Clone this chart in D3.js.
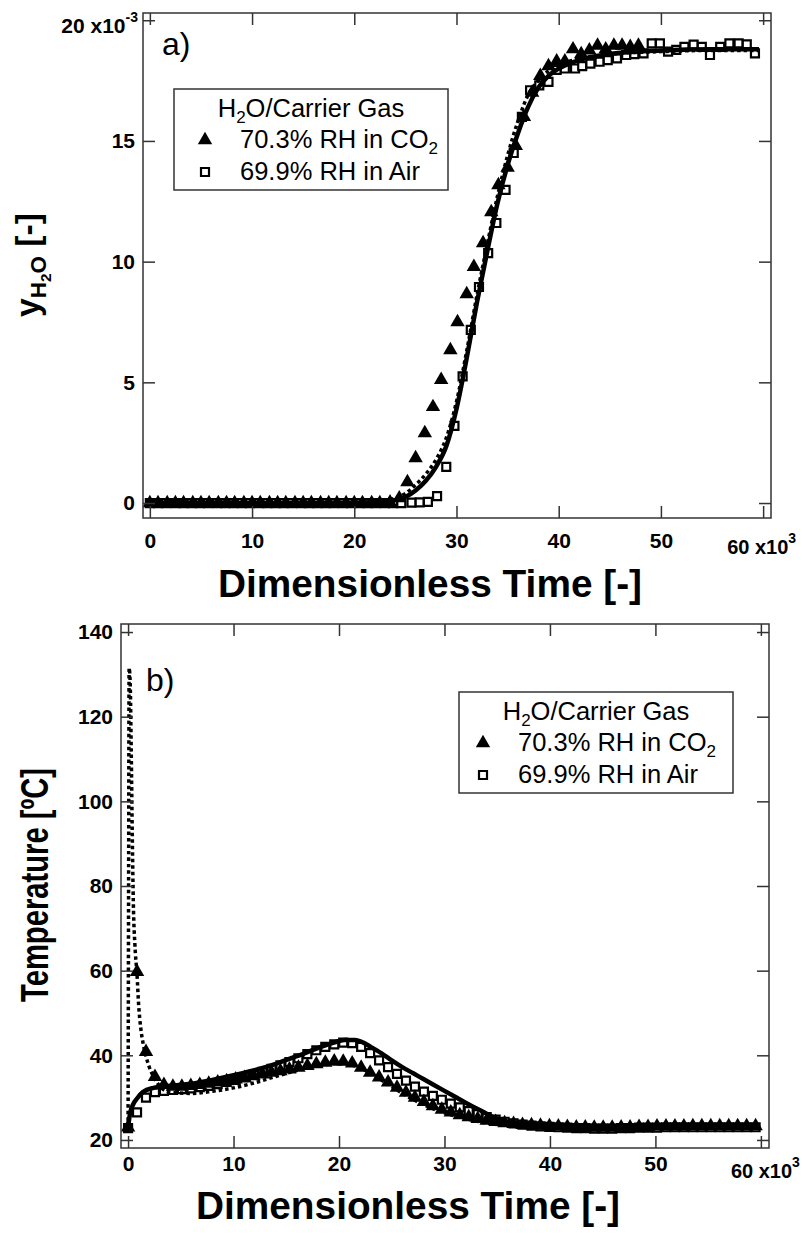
<!DOCTYPE html>
<html>
<head>
<meta charset="utf-8">
<script src="https://cdn.jsdelivr.net/npm/d3@7"></script>
<style>
  body { margin: 0; background: #fff; }
  svg { display: block; font-family: "Liberation Sans", Arial, Helvetica, sans-serif; }
</style>
</head>
<body>
<svg id="chart" width="802" height="1237"></svg>
<script>
// ---------- tick values ----------
const timeTicks = [0, 10, 20, 30, 40, 50, 60];          // x10^3
const h2oTicks  = [0, 5, 10, 15, 20];                    // x10^-3
const tempTicks = [20, 40, 60, 80, 100, 120, 140];       // degC

// ---------- panel a: outlet water mole fraction (x10^-3) ----------
const co2TimeA = [0, 0.8, 1.7, 2.5, 3.3, 4.2, 5.0, 5.8, 6.7, 7.5, 8.3, 9.2, 10.0, 10.8, 11.7,
  12.5, 13.3, 14.2, 15.0, 15.8, 16.7, 17.5, 18.3, 19.2, 20.0, 20.8, 21.7, 22.5, 23.5, 24.4,
  25.2, 26.0, 26.9, 27.7, 28.5, 29.4, 30.1, 31.0, 31.7, 32.6, 33.4, 34.1, 35.0, 35.8, 36.6,
  37.4, 38.2, 39.0, 39.8, 40.6, 41.4, 42.2, 43.0, 43.8, 44.6, 45.4, 46.2, 47.0, 47.8];
const co2H2O = [0, 0, 0, 0, 0, 0, 0, 0, 0, 0, 0, 0, 0, 0, 0,
  0, 0, 0, 0, 0, 0, 0, 0, 0, 0, 0, 0, 0, 0.03, 0.2,
  0.87, 1.86, 2.9, 3.98, 5.1, 6.34, 7.5, 8.66, 9.78, 10.77, 12.05, 13.17, 13.9, 14.8, 16.0,
  17.0, 17.7, 18.1, 18.3, 18.3, 18.8, 18.6, 18.75, 18.95, 18.8, 18.95, 18.95, 18.9, 18.95];

const airTimeA = [0, 0.8, 1.6, 2.5, 3.3, 4.1, 4.9, 5.7, 6.6, 7.4, 8.2, 9.0, 9.8, 10.7, 11.5,
  12.3, 13.1, 13.9, 14.8, 15.6, 16.4, 17.2, 18.0, 18.9, 19.7, 20.5, 21.3, 22.1, 23.0, 23.8,
  24.6, 25.6, 26.4, 27.2, 28.1, 29.0, 29.8, 30.6, 31.4, 32.2, 33.1, 33.9, 34.8, 35.6, 36.4,
  37.2, 38.1, 39.0, 39.8, 40.6, 41.6, 42.3, 43.1, 44.0, 44.8, 45.7, 46.6, 47.4, 48.3, 49.1,
  49.9, 50.7, 51.5, 52.3, 53.2, 54.0, 54.8, 55.8, 56.7, 57.6, 58.4, 59.2];
const airH2O = [0, 0, 0, 0, 0, 0, 0, 0, 0, 0, 0, 0, 0, 0, 0,
  0, 0, 0, 0, 0, 0, 0, 0, 0, 0, 0, 0, 0, 0, 0,
  0, 0.02, 0.03, 0.05, 0.29, 1.5, 3.2, 5.25, 7.17, 8.95, 10.35, 11.6, 12.97, 14.5, 16.0,
  17.1, 17.3, 17.45, 17.94, 18.0, 18.0, 18.1, 18.2, 18.28, 18.35, 18.42, 18.56, 18.6, 18.63, 19.04,
  19.04, 18.7, 18.77, 18.9, 18.99, 18.9, 18.56, 18.9, 19.04, 19.04, 19.0, 18.63];

const fitTimeA = [0, 20, 22, 23, 24, 25, 26, 27, 28, 29, 30, 31, 32, 33, 34, 35, 36, 37, 38, 39,
  40, 42, 45, 50, 55, 59.6];
const fitSolidH2O = [0, 0.01, 0.03, 0.06, 0.12, 0.25, 0.52, 0.92, 1.5, 2.35, 3.9, 6.0, 8.3, 10.4,
  12.4, 14.0, 15.3, 16.4, 17.2, 17.7, 18.0, 18.35, 18.6, 18.75, 18.8, 18.8];
const fitDashedH2O = [0, 0.02, 0.05, 0.1, 0.2, 0.4, 0.75, 1.2, 1.8, 2.7, 4.2, 6.3, 8.6, 10.7,
  12.7, 14.4, 15.8, 16.9, 17.5, 17.9, 18.15, 18.4, 18.6, 18.7, 18.75, 18.75];

// ---------- panel b: bed temperature (degC) ----------
const tempTime = [0, 0.85, 1.7, 2.55, 3.4, 4.25, 5.1, 5.95, 6.8, 7.65, 8.5, 9.35, 10.2, 11.05,
  11.9, 12.75, 13.6, 14.45, 15.3, 16.15, 17.0, 17.85, 18.7, 19.55, 20.4, 21.25, 22.1, 22.95,
  23.8, 24.65, 25.5, 26.35, 27.2, 28.05, 28.9, 29.75, 30.6, 31.45, 32.3, 33.15, 34.0, 34.85,
  35.7, 36.55, 37.4, 38.25, 39.1, 39.95, 40.8, 41.65, 42.5, 43.35, 44.2, 45.05, 45.9, 46.75,
  47.6, 48.45, 49.3, 50.15, 51.0, 51.85, 52.7, 53.55, 54.4, 55.25, 56.1, 56.95, 57.8, 58.65, 59.5];
const co2Temp = [23.0, 59.7, 40.8, 34.9, 33.0, 32.6, 32.6, 32.8, 33.0, 33.3, 33.6, 33.9, 34.3, 34.7,
  35.1, 35.5, 35.9, 36.3, 36.7, 37.1, 37.5, 37.9, 38.3, 38.6, 38.5, 38.1, 37.1, 35.9,
  34.8, 33.6, 32.4, 31.2, 30.0, 29.0, 28.0, 27.2, 26.5, 25.9, 25.4, 25.0, 24.6, 24.3,
  24.0, 23.8, 23.6, 23.5, 23.4, 23.3, 23.2, 23.1, 23.0, 23.0, 22.9, 22.9, 22.9, 23.0,
  23.0, 23.1, 23.1, 23.2, 23.2, 23.2, 23.2, 23.3, 23.3, 23.3, 23.3, 23.3, 23.3, 23.3, 23.3];
const airTemp = [22.8, 26.5, 30.0, 31.3, 31.6, 31.8, 32.0, 32.2, 32.5, 32.8, 33.2, 33.7, 34.2, 34.8,
  35.4, 36.1, 36.8, 37.6, 38.4, 39.3, 40.3, 41.2, 42.0, 42.6, 43.0, 42.9, 42.0, 40.5,
  38.8, 37.2, 35.6, 34.0, 32.6, 31.4, 30.4, 29.5, 28.6, 27.7, 26.8, 26.1, 25.4, 24.8,
  24.3, 23.9, 23.6, 23.4, 23.2, 23.1, 23.0, 22.9, 22.8, 22.8, 22.7, 22.7, 22.7, 22.8,
  22.8, 22.9, 22.9, 22.9, 23.0, 23.0, 23.0, 23.0, 23.0, 23.0, 23.0, 23.0, 23.0, 23.0, 23.0];

const airModelTime = [0, 0.2, 0.5, 0.85, 1.4, 2.4, 4, 6, 8, 10, 12, 14, 16, 18, 19.5, 20.5, 21.5,
  22.3, 23, 24, 25, 26, 27, 28, 29, 30, 31, 32, 33, 34, 35, 36, 37, 40, 45, 50, 55, 59.7];
const airModelTemp = [23, 26.4, 28.5, 29.8, 31.3, 32.3, 32.8, 33.3, 34.2, 35.3, 36.5, 38.0, 39.8,
  41.7, 43.0, 43.6, 43.6, 43.0, 42.0, 40.5, 38.8, 37.2, 35.8, 34.4, 33.0, 31.6, 30.2, 28.8,
  27.5, 26.2, 25.0, 24.2, 23.8, 23.5, 23.3, 23.3, 23.3, 23.3];

const co2ModelTime = [0, 0.05, 0.1, 0.2, 0.3, 0.4, 0.5, 0.65, 0.85, 1.0, 1.2, 1.45, 1.7, 2.0, 2.5,
  3.2, 4, 6, 8, 10, 12, 14, 16, 18, 19.5, 20.5, 21.5, 22.5, 23.5, 24.5, 25.5, 27, 28.5, 30,
  32, 34, 36, 40, 45, 50, 55, 59.7];
const co2ModelTemp = [23, 80, 131.5, 128, 112, 92, 76, 66, 59, 52, 46.5, 42.5, 39.8, 37.3, 34.6,
  32.2, 31.3, 31.0, 31.5, 32.3, 33.5, 35.0, 36.4, 37.5, 38.0, 38.0, 37.5, 36.4, 35.0, 33.4,
  31.8, 29.6, 27.8, 26.4, 25.0, 24.0, 23.4, 23.0, 22.8, 22.9, 23.0, 23.0];

const legendTitle = ["H", "2", "O/Carrier Gas"];
const seriesNames = [["70.3% RH in CO", "2"], ["69.9% RH in Air", ""]];

// ---------- drawing ----------
const INK = "#000";
const AXIS = "#333";
const FONT = "'Liberation Sans', Arial, sans-serif";
const svg = d3.select("#chart");
svg.append("rect").attr("width", 802).attr("height", 1237).attr("fill", "#fff");

const zip = (xs, ys) => xs.map((t, i) => [t, ys[i]]);

function makePanel(box, yDomain) {
  const x = d3.scaleLinear().domain([-0.67, 60.77]).range([box.left, box.right]);
  const y = d3.scaleLinear().domain(yDomain).range([box.bottom, box.top]);
  const g = svg.append("g");
  return { g, x, y, box };
}

function styleAxis(sel) {
  sel.select(".domain").remove();
  sel.selectAll(".tick line").attr("stroke", AXIS).attr("stroke-width", 1.5);
  sel.selectAll(".tick text")
    .attr("fill", INK)
    .attr("font-family", FONT)
    .attr("font-weight", "bold")
    .attr("font-size", 21);
}

function drawAxes(p, yTicks, opts) {
  const { g, x, y, box } = p;
  const T = 12;
  // bottom (labelled) and top (mirror) time axes
  g.append("g").attr("transform", `translate(0,${box.bottom})`)
    .call(d3.axisBottom(x).tickValues(timeTicks).tickSize(-T).tickPadding(opts.xPad)
      .tickFormat(d => d === 60 ? "" : d))
    .call(styleAxis);
  g.append("g").attr("transform", `translate(0,${box.top})`)
    .call(d3.axisTop(x).tickValues(timeTicks).tickSize(-T).tickFormat(""))
    .call(styleAxis);
  // left (labelled) and right (mirror) value axes
  g.append("g").attr("transform", `translate(${box.left},0)`)
    .call(d3.axisLeft(y).tickValues(yTicks).tickSize(-T).tickPadding(opts.yPad)
      .tickFormat(d => opts.topExp && d === yTicks[yTicks.length - 1] ? "" : d))
    .call(styleAxis);
  g.append("g").attr("transform", `translate(${box.right},0)`)
    .call(d3.axisRight(y).tickValues(yTicks).tickSize(-T).tickFormat(""))
    .call(styleAxis);
  // frame
  g.append("rect")
    .attr("x", box.left).attr("y", box.top)
    .attr("width", box.right - box.left).attr("height", box.bottom - box.top)
    .attr("fill", "none").attr("stroke", AXIS).attr("stroke-width", 1.5);

  // "60 x10^3" label on the last time tick
  const t60 = g.append("text")
    .attr("x", x(60) + opts.expDx).attr("y", box.bottom + opts.expDy)
    .attr("font-weight", "bold").attr("font-size", 20).attr("fill", INK);
  t60.append("tspan").text("60 x10");
  t60.append("tspan").attr("font-size", 14).attr("dy", -11).text("3");

  // exponent label on the top value tick
  if (opts.topExp) {
    const yt = y(yTicks[yTicks.length - 1]);
    const te = g.append("text")
      .attr("x", box.left - 5).attr("y", yt + 13)
      .attr("text-anchor", "end")
      .attr("font-weight", "bold").attr("font-size", 21).attr("fill", INK);
    te.append("tspan").text("20 x10");
    te.append("tspan").attr("font-size", 14).attr("dy", -11).text(opts.topExp);
  }
}

function drawLegend(g, lx, ly, o) {
  g.append("rect").attr("x", lx).attr("y", ly).attr("width", 274).attr("height", 101)
    .attr("fill", "#fff").attr("stroke", AXIS).attr("stroke-width", 1.5);
  const title = g.append("text").attr("x", lx + 137).attr("y", ly + 28)
    .attr("text-anchor", "middle").attr("font-size", 25.5).attr("fill", INK);
  title.append("tspan").text(legendTitle[0]);
  title.append("tspan").attr("font-size", 17).attr("dy", 6).text(legendTitle[1]);
  title.append("tspan").attr("dy", -6).text(legendTitle[2]);

  const rows = [ly + 59, ly + 91];
  g.append("path").attr("d", d3.symbol(d3.symbolTriangle, 90)())
    .attr("transform", `translate(${lx + o.sym},${rows[0] - 8})`).attr("fill", INK);
  g.append("path").attr("d", d3.symbol(d3.symbolSquare, 64)())
    .attr("transform", `translate(${lx + o.sym},${rows[1] - 8})`)
    .attr("fill", "#fff").attr("stroke", INK).attr("stroke-width", 2.2);
  seriesNames.forEach((nm, i) => {
    const t = g.append("text").attr("x", lx + o.txt).attr("y", rows[i])
      .attr("font-size", 25.5).attr("fill", INK);
    t.append("tspan").text(nm[0]);
    if (nm[1]) t.append("tspan").attr("font-size", 17).attr("dy", 6).text(nm[1]);
  });
}

function drawSeries(p, tri, sq, lines) {
  const { g, x, y } = p;
  g.append("g").selectAll("path").data(sq).join("path")
    .attr("d", d3.symbol(d3.symbolSquare, 64)())
    .attr("transform", d => `translate(${x(d[0])},${y(d[1])})`)
    .attr("fill", "#fff").attr("stroke", INK).attr("stroke-width", 2.2);
  g.append("g").selectAll("path").data(tri).join("path")
    .attr("d", d3.symbol(d3.symbolTriangle, 90)())
    .attr("transform", d => `translate(${x(d[0])},${y(d[1])})`)
    .attr("fill", INK);
  lines.forEach(l => {
    g.append("path").datum(l.pts)
      .attr("d", d3.line().x(d => x(d[0])).y(d => y(d[1])).curve(d3.curveMonotoneX))
      .attr("fill", "none").attr("stroke", INK)
      .attr("stroke-width", l.w)
      .attr("stroke-dasharray", l.dash || null)
      .attr("stroke-linejoin", "round");
  });
}

function axisTitle(g, x, y, len, rotate) {
  return g.append("text")
    .attr("transform", `translate(${x},${y})` + (rotate ? " rotate(-90)" : ""))
    .attr("text-anchor", "middle").attr("font-weight", "bold").attr("fill", INK)
    .attr("textLength", len).attr("lengthAdjust", "spacingAndGlyphs");
}

// ---- panel a ----
const pa = makePanel({ left: 143, right: 771, top: 13, bottom: 518 }, [-0.62, 20.3]);
drawSeries(pa, zip(co2TimeA, co2H2O), zip(airTimeA, airH2O), [
  { pts: zip(fitTimeA, fitDashedH2O), w: 3.5, dash: "3.5,3" },
  { pts: zip(fitTimeA, fitSolidH2O), w: 4.5 }
]);
drawAxes(pa, h2oTicks, { xPad: 15, yPad: 8, topExp: "-3", expDx: -36, expDy: 36 });
drawLegend(pa.g, 174, 89, { sym: 31, txt: 66 });
pa.g.append("text").attr("x", 162).attr("y", 55).attr("font-size", 32).attr("fill", INK).text("a)");

axisTitle(pa.g, 430, 597, 424, false).attr("font-size", 38).text("Dimensionless Time [-]");
{
  const t = axisTitle(pa.g, 39, 265, 104, true).attr("font-size", 33);
  t.append("tspan").text("y");
  t.append("tspan").attr("font-size", 22).attr("dy", 7).text("H");
  t.append("tspan").attr("font-size", 15).attr("dy", 5).text("2");
  t.append("tspan").attr("font-size", 22).attr("dy", -5).text("O");
  t.append("tspan").attr("dy", -7).text(" [-]");
}

// ---- panel b ----
const pb = makePanel({ left: 121, right: 769, top: 624, bottom: 1148 }, [18.1, 141.9]);
drawSeries(pb, zip(tempTime, co2Temp), zip(tempTime, airTemp), [
  { pts: zip(co2ModelTime, co2ModelTemp), w: 3.5, dash: "3.5,3" },
  { pts: zip(airModelTime, airModelTemp), w: 4.5 }
]);
drawAxes(pb, tempTicks, { xPad: 8, yPad: 8, expDx: -30, expDy: 30 });
drawLegend(pb.g, 459, 692, { sym: 24, txt: 59 });
pb.g.append("text").attr("x", 146).attr("y", 691).attr("font-size", 32).attr("fill", INK).text("b)");

axisTitle(pb.g, 408, 1219, 424, false).attr("font-size", 38).text("Dimensionless Time [-]");
axisTitle(pb.g, 48, 885, 234, true).attr("font-size", 38).text("Temperature [ºC]");
</script>
</body>
</html>
